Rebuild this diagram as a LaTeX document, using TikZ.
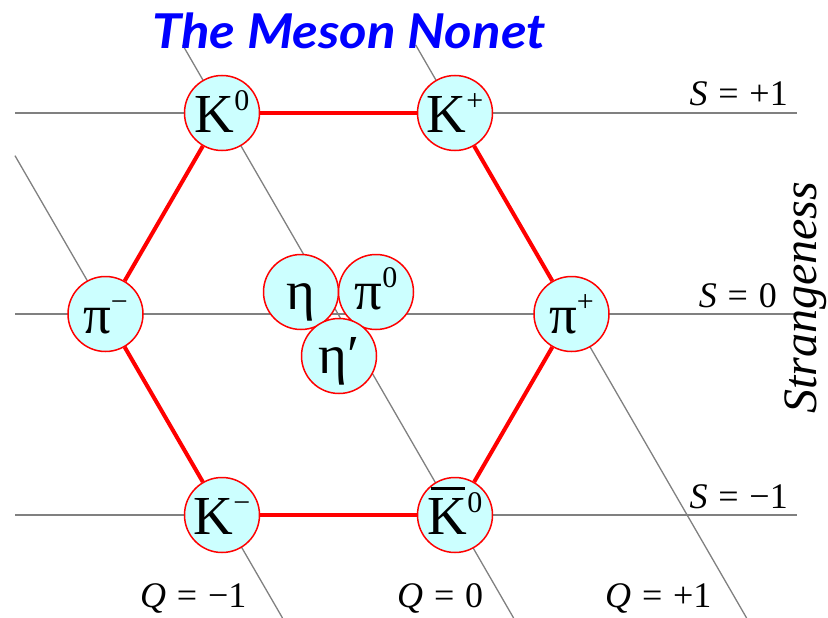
\documentclass[tikz,border=0pt]{standalone}
\usepackage{fontspec}
\setmainfont{Liberation Serif}
\newfontfamily\titlefont{Lato}
\newcommand\spr[1]{\raisebox{0.4em}{\fontsize{30}{30}\selectfont #1}}
\newcommand\kbar{\makebox[0pt][l]{\hspace{0.06em}\raisebox{0.8em}{\rule{0.62em}{0.055em}}}K}
\newcommand\eqsp{\hspace{0.3em}=\hspace{0.3em}}
\definecolor{cellfill}{RGB}{204,255,255}
\tikzset{
  grid/.style={draw=gray, line width=1.3pt},
  particle/.style={circle, draw=red, line width=1.5pt, fill=cellfill,
    minimum size=75pt, inner sep=0pt, text height=38pt, text depth=0pt,
    font=\fontsize{55}{60}\selectfont},
  hexedge/.style={draw=red, line width=4pt},
  lab/.style={font=\rmfamily\fontsize{36}{40}\selectfont, inner sep=0pt},
}
\begin{document}
\begin{tikzpicture}[x=1pt,y=-1pt]
\useasboundingbox (0,0) rectangle (828,618);
% grid lines
\draw[grid] (15,113) -- (797,113);
\draw[grid] (15,314) -- (797,314);
\draw[grid] (15,515) -- (797,515);
\draw[grid] (15,155.7) -- (282.5,618);
\draw[grid] (182.7,45) -- (513.6,618);
\draw[grid] (415.7,45) -- (746.6,618);
% title
\node[text=blue, inner sep=0pt, font=\titlefont\bfseries\itshape\fontsize{48}{52}\selectfont] (title) at (349,31) {\scalebox{1.1}[1]{The Meson Nonet}};
% particles
\node[particle] (K0) at (222,113) {K\spr{0}};
\node[particle] (Kp) at (455,113) {K\spr{+}};
\node[particle] (pim) at (105.5,314) {π\spr{−}};
\node[particle] (pip) at (571.5,314) {π\spr{+}};
\node[particle] (Km) at (222,515) {K\spr{−}};
\node[particle] (Kb0) at (455,515) {\kbar\spr{0}};
\node[particle, text height=35pt] (eta) at (301,292) {η};
\node[particle, text height=35pt] (pi0) at (376,292) {π\spr{0}};
\node[particle, text height=35pt] (etap) at (339,356) {η′};
% hexagon
\draw[hexedge] (K0) -- (Kp);
\draw[hexedge] (Kp) -- (pip);
\draw[hexedge] (pip) -- (Kb0);
\draw[hexedge] (Kb0) -- (Km);
\draw[hexedge] (Km) -- (pim);
\draw[hexedge] (pim) -- (K0);
% labels
\node[lab, anchor=base east] (sp1) at (788,106) {\textit{S}\eqsp+1};
\node[lab, anchor=base east] (s0) at (777,307) {\textit{S}\eqsp0};
\node[lab, anchor=base east] (sm1) at (788,508) {\textit{S}\eqsp−1};
\node[lab, anchor=base west] (qm1) at (140,607) {\textit{Q}\eqsp−1};
\node[lab, anchor=base west] (q0) at (397,607) {\textit{Q}\eqsp0};
\node[lab, anchor=base west] (qp1) at (605,607) {\textit{Q}\eqsp+1};
\node[rotate=90, anchor=base, inner sep=0pt, font=\rmfamily\itshape\fontsize{48}{50}\selectfont] (strange) at (816,298) {Strangeness};
\end{tikzpicture}
\end{document}
